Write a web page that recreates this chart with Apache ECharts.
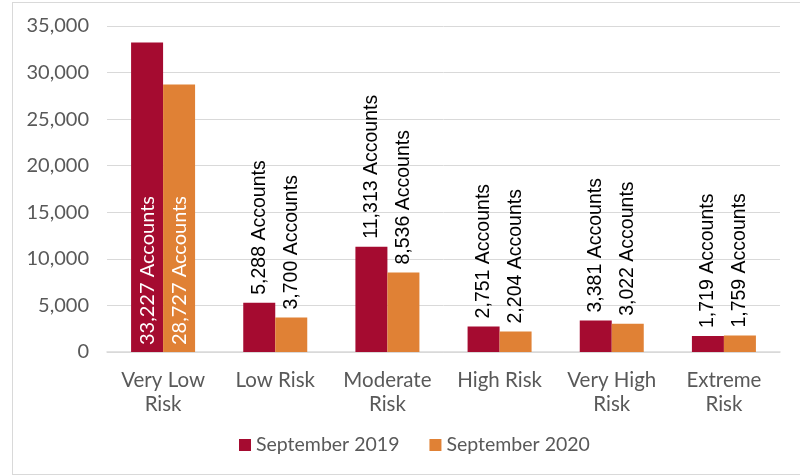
<!DOCTYPE html>
<html>
<head>
<meta charset="utf-8">
<script src="https://cdn.jsdelivr.net/npm/echarts@6/dist/echarts.min.js"></script>
<style>
  html, body { margin: 0; padding: 0; background: #fff; }
  #frame { position: absolute; left: 12px; top: 2px; width: 800px; height: 473px; border: 1px solid #d9d9d9; box-sizing: border-box; }
  #chart { width: 800px; height: 476px; position: absolute; left: 0; top: 0; }
</style>
</head>
<body>
<div id="frame"></div>
<div id="chart"></div>
<script>
var categories = ['Very Low\nRisk', 'Low Risk', 'Moderate\nRisk', 'High Risk', 'Very High\nRisk', 'Extreme\nRisk'];
var sep2019 = [33227, 5288, 11313, 2751, 3381, 1719];
var sep2020 = [28727, 3700, 8536, 2204, 3022, 1759];
var seriesNames = ['September 2019', 'September 2020'];
var colors = ['#A50B30', '#E08135'];

function fmt(v) {
    return v.toLocaleString('en-US') + ' Accounts';
}

function build_data (values) {
    return values.map(function (v, i) {
        var item = { value: v };
        if (i === 0) {
            // tallest pair keeps its label inside, in white
            item.label = {
                position: 'insideBottom',
                distance: 7,
                color: '#fff',
                fontFamily: 'Lato',
                fontSize: 20
            };
        }
        return item;
    });
}

var chartobj = echarts.init(document.getElementById('chart'));
var labelStyle = {
    show: true,
    position: 'top',
    rotate: 90,
    align: 'left',
    verticalAlign: 'middle',
    distance: 8,
    fontSize: 19.5,
    fontFamily: 'Liberation Sans',
    color: '#000',
    formatter: function (p) { return fmt(p.value); }
};
var option = {
    animation: false,
    color: colors,
    grid: { left: 107, right: 20, top: 26, bottom: 124 },
    legend: {
        bottom: 16,
        left: 234,
        itemWidth: 12,
        itemHeight: 12,
        itemGap: 30,
        icon: 'rect',
        textStyle: { fontFamily: 'Lato', fontSize: 19.5, color: '#595959' },
        data: seriesNames
    },
    xAxis: {
        type: 'category',
        data: categories,
        axisTick: { show: false },
        axisLine: { lineStyle: { color: '#d9d9d9', width: 1.5 } },
        axisLabel: { fontFamily: 'Lato', fontSize: 20.5, color: '#595959', margin: 16, lineHeight: 24, interval: 0 }
    },
    yAxis: {
        type: 'value',
        min: 0,
        max: 35000,
        interval: 5000,
        axisLine: { show: false },
        axisTick: { show: false },
        splitLine: { lineStyle: { color: '#d9d9d9' } },
        axisLabel: {
            fontFamily: 'Lato', fontSize: 20, color: '#595959', margin: 18,
            formatter: function (v) { return v.toLocaleString('en-US'); }
        }
    },
    series: [
        {
            name: seriesNames[0],
            type: 'bar',
            barWidth: 32,
            barGap: '0%',
            data: build_data(sep2019),
            label: labelStyle
        },
        {
            name: seriesNames[1],
            type: 'bar',
            barWidth: 32,
            barGap: '0%',
            data: build_data(sep2020),
            label: labelStyle
        }
    ]
};
chartobj.setOption(option);
</script>
</body>
</html>
